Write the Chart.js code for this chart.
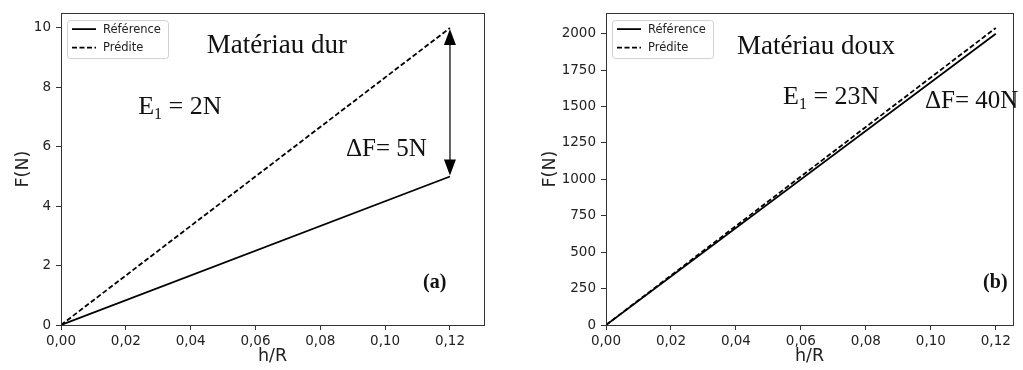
<!DOCTYPE html>
<html>
<head>
<meta charset="utf-8">
<title>F(N) vs h/R</title>
<script src="https://cdn.jsdelivr.net/npm/chart.js"></script>
<style>
body{margin:0;background:#fff;width:1023px;height:370px;overflow:hidden;position:relative;}
.panel{position:absolute;top:0;height:370px;}
#left{left:0;width:510px;}
#right{left:510px;width:513px;}
</style>
</head>
<body>

<div class="panel" id="left"><canvas id="chartA"></canvas></div>
<div class="panel" id="right"><canvas id="chartB"></canvas></div>

<script>
// ================= DATA =================
const hR = [0, 0.12];
const refDur = [0, 5];
const predDur = [0, 10];
const refDoux = [0, 2000];
const predDoux = [0, 2040];
const xTicks = [0, 0.02, 0.04, 0.06, 0.08, 0.10, 0.12];
const yTicksDur = [0, 2, 4, 6, 8, 10];
const yTicksDoux = [0, 250, 500, 750, 1000, 1250, 1500, 1750, 2000];
const seriesNames = ['Référence', 'Prédite'];

// ================= ANNOTATIONS (data coords) =================
const SERIF = '"Liberation Serif","Times New Roman",serif';
const notesDur = [
  {x:0.045, y:9.4, parts:[['Matériau dur']], size:27},
  {x:0.0238, y:7.33, parts:[['E'],['1','sub'],[' = 2N']]},
  {x:0.0879, y:5.9, parts:[['ΔF= 5N']], size:25},
  {x:0.1117, y:1.43, parts:[['(a)']], size:20, bold:true}
];
const notesDoux = [
  {x:0.0403, y:1907, parts:[['Matériau doux']], size:27},
  {x:0.0545, y:1563, parts:[['E'],['1','sub'],[' = 23N']]},
  {x:0.0982, y:1533, parts:[['ΔF= 40N']], size:25},
  {x:0.1161, y:293, parts:[['(b)']], size:20, bold:true}
];

// ================= HELPERS =================
function pts(xs, ys){ return xs.map((x,i)=>({x:x, y:ys[i]})); }
function fmt(v){ return v.toFixed(2).replace('.', ','); }

function drawNotes(chart, notes){
  const {ctx, scales} = chart;
  ctx.save();
  ctx.fillStyle = '#111';
  ctx.textBaseline = 'middle';
  ctx.textAlign = 'left';
  notes.forEach(n=>{
    let x = scales.x.getPixelForValue(n.x);
    const y = scales.y.getPixelForValue(n.y);
    const size = n.size || 26;
    n.parts.forEach(p=>{
      const sub = p[1] === 'sub';
      const s = sub ? Math.round(size*0.6) : size;
      ctx.font = (n.bold ? 'bold ' : '') + s + 'px ' + SERIF;
      ctx.fillText(p[0], x, sub ? y + size*0.3 : y);
      x += ctx.measureText(p[0]).width;
    });
  });
  ctx.restore();
}

function drawLegend(chart){
  const {ctx, chartArea:a} = chart;
  const x0 = a.left + 6, y0 = a.top + 7, w = 101, h = 38;
  ctx.save();
  ctx.fillStyle = 'rgba(255,255,255,0.85)';
  ctx.strokeStyle = '#d0d0d0';
  ctx.lineWidth = 1;
  ctx.beginPath();
  ctx.roundRect(x0+0.5, y0+0.5, w, h, 3);
  ctx.fill(); ctx.stroke();
  ctx.font = '11.5px "DejaVu Sans", sans-serif';
  ctx.textBaseline = 'middle';
  ctx.textAlign = 'left';
  chart.data.datasets.forEach((ds,i)=>{
    const yy = y0 + 9 + i*18.5;
    ctx.strokeStyle = ds.borderColor;
    ctx.lineWidth = ds.borderWidth;
    ctx.setLineDash(ds.borderDash || []);
    ctx.beginPath();
    ctx.moveTo(x0+5, yy); ctx.lineTo(x0+29, yy);
    ctx.stroke();
    ctx.setLineDash([]);
    ctx.fillStyle = '#222';
    ctx.fillText(ds.label, x0+36, yy+0.5);
  });
  ctx.restore();
}

function drawArrow(chart, xv, y1, y2){
  const {ctx, scales} = chart;
  const x = scales.x.getPixelForValue(xv);
  const top = scales.y.getPixelForValue(y1);
  const bot = scales.y.getPixelForValue(y2);
  const hl = 17, hw = 6;
  ctx.save();
  ctx.strokeStyle = '#555';
  ctx.lineWidth = 1.8;
  ctx.beginPath();
  ctx.moveTo(x, top+hl-2); ctx.lineTo(x, bot-hl+2);
  ctx.stroke();
  ctx.fillStyle = '#000';
  ctx.beginPath();
  ctx.moveTo(x, top+1); ctx.lineTo(x-hw, top+hl); ctx.lineTo(x+hw, top+hl); ctx.closePath();
  ctx.fill();
  ctx.beginPath();
  ctx.moveTo(x, bot-1); ctx.lineTo(x-hw, bot-hl); ctx.lineTo(x+hw, bot-hl); ctx.closePath();
  ctx.fill();
  ctx.restore();
}

const frame = {
  id:'frame',
  afterDraw(chart){
    const {ctx, chartArea:a} = chart;
    ctx.save();
    ctx.strokeStyle = '#333';
    ctx.lineWidth = 1;
    ctx.strokeRect(Math.round(a.left)+0.5, Math.round(a.top)+0.5,
                   Math.round(a.right-a.left), Math.round(a.bottom-a.top));
    ctx.restore();
    const o = chart.options.plugins.extras;
    drawLegend(chart);
    if (o.arrow) drawArrow(chart, o.arrow[0], o.arrow[1], o.arrow[2]);
    drawNotes(chart, o.notes);
  }
};

// ================= CHART =================
function makeChart(id, refVals, predVals, yMax, yTicks, opts){
  const tickFont = {family:'"DejaVu Sans", sans-serif', size:13.5};
  const titleFont = {family:'"DejaVu Sans", sans-serif', size:17.5};
  return new Chart(document.getElementById(id), {
    type:'line',
    data:{
      datasets:[
        {label:seriesNames[0], data:pts(hR, refVals), borderColor:'#000', borderWidth:1.8,
         pointRadius:0, fill:false, tension:0},
        {label:seriesNames[1], data:pts(hR, predVals), borderColor:'#000', borderWidth:1.8,
         borderDash:[5,2.5], pointRadius:0, fill:false, tension:0}
      ]
    },
    plugins:[frame],
    options:{
      responsive:true,
      maintainAspectRatio:false,
      animation:false,
      events:[],
      layout:{padding:{top:10, right:opts.padRight, left:0, bottom:0}},
      plugins:{
        legend:{display:false},
        tooltip:{enabled:false},
        extras:{notes:opts.notes, arrow:opts.arrow}
      },
      scales:{
        x:{
          type:'linear', min:0, max:opts.xMax,
          afterBuildTicks:s=>{ s.ticks = xTicks.map(v=>({value:v})); },
          afterFit:s=>{ s.height = 45; },
          grid:{drawOnChartArea:false, drawTicks:true, tickLength:5, color:'#333'},
          border:{display:false},
          ticks:{font:tickFont, color:'#222', padding:3, maxRotation:0, callback:v=>fmt(v)},
          title:{display:true, text:'h/R', font:titleFont, color:'#222', padding:{top:0, bottom:3}}
        },
        y:{
          type:'linear', min:0, max:yMax,
          afterBuildTicks:s=>{ s.ticks = yTicks.map(v=>({value:v})); },
          afterFit:s=>{ s.width = opts.yWidth; },
          grid:{drawOnChartArea:false, drawTicks:true, tickLength:5, color:'#333'},
          border:{display:false},
          ticks:{font:tickFont, color:'#222', padding:5, callback:v=>String(v)},
          title:{display:true, text:'F(N)', font:titleFont, color:'#222', padding:{top:opts.yTitlePad, bottom:0}}
        }
      }
    }
  });
}

makeChart('chartA', refDur, predDur, 10.5, yTicksDur,
  {xMax:0.1305, padRight:26, yWidth:61, yTitlePad:13, notes:notesDur, arrow:[0.12, 10, 5]});
makeChart('chartB', refDoux, predDoux, 2142, yTicksDoux,
  {xMax:0.1253, padRight:10, yWidth:96, yTitlePad:30, notes:notesDoux, arrow:null});
</script>

</body>
</html>
